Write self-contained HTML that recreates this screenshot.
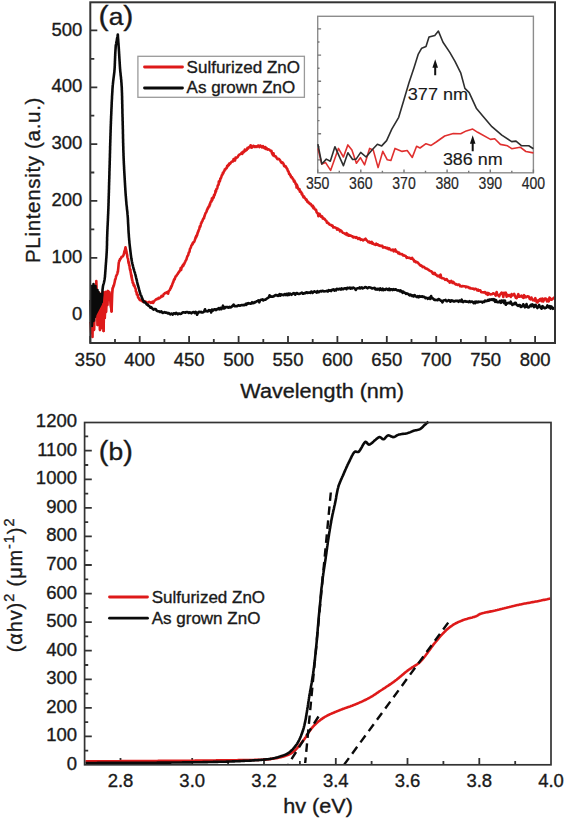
<!DOCTYPE html>
<html><head><meta charset="utf-8"><style>
html,body{margin:0;padding:0;background:#fff;width:564px;height:820px;overflow:hidden}
svg{display:block;font-family:"Liberation Sans",sans-serif}
</style></head><body>
<svg width="564" height="820" viewBox="0 0 564 820">
<path d="M90.3,343.0 V336.0 M115.0,343.0 V339.0 M139.7,343.0 V336.0 M164.4,343.0 V339.0 M189.1,343.0 V336.0 M213.8,343.0 V339.0 M238.6,343.0 V336.0 M263.3,343.0 V339.0 M288.0,343.0 V336.0 M312.7,343.0 V339.0 M337.4,343.0 V336.0 M362.1,343.0 V339.0 M386.8,343.0 V336.0 M411.5,343.0 V339.0 M436.2,343.0 V336.0 M460.9,343.0 V339.0 M485.7,343.0 V336.0 M510.4,343.0 V339.0 M535.1,343.0 V336.0 M90.3,314.6 H97.3 M90.3,286.2 H94.3 M90.3,257.8 H97.3 M90.3,229.4 H94.3 M90.3,200.9 H97.3 M90.3,172.5 H94.3 M90.3,144.1 H97.3 M90.3,115.7 H94.3 M90.3,87.3 H97.3 M90.3,58.9 H94.3 M90.3,30.4 H97.3" stroke="#333333" stroke-width="1.8" fill="none"/>
<text transform="translate(90.3,365.5)" font-size="18.5" text-anchor="middle" fill="#1a1a1a" stroke="#1a1a1a" stroke-width="0.35">350</text>
<text transform="translate(139.7,365.5)" font-size="18.5" text-anchor="middle" fill="#1a1a1a" stroke="#1a1a1a" stroke-width="0.35">400</text>
<text transform="translate(189.1,365.5)" font-size="18.5" text-anchor="middle" fill="#1a1a1a" stroke="#1a1a1a" stroke-width="0.35">450</text>
<text transform="translate(238.6,365.5)" font-size="18.5" text-anchor="middle" fill="#1a1a1a" stroke="#1a1a1a" stroke-width="0.35">500</text>
<text transform="translate(288.0,365.5)" font-size="18.5" text-anchor="middle" fill="#1a1a1a" stroke="#1a1a1a" stroke-width="0.35">550</text>
<text transform="translate(337.4,365.5)" font-size="18.5" text-anchor="middle" fill="#1a1a1a" stroke="#1a1a1a" stroke-width="0.35">600</text>
<text transform="translate(386.8,365.5)" font-size="18.5" text-anchor="middle" fill="#1a1a1a" stroke="#1a1a1a" stroke-width="0.35">650</text>
<text transform="translate(436.2,365.5)" font-size="18.5" text-anchor="middle" fill="#1a1a1a" stroke="#1a1a1a" stroke-width="0.35">700</text>
<text transform="translate(485.7,365.5)" font-size="18.5" text-anchor="middle" fill="#1a1a1a" stroke="#1a1a1a" stroke-width="0.35">750</text>
<text transform="translate(535.1,365.5)" font-size="18.5" text-anchor="middle" fill="#1a1a1a" stroke="#1a1a1a" stroke-width="0.35">800</text>
<text transform="translate(82.3,319.7)" font-size="18.5" text-anchor="end" fill="#1a1a1a" stroke="#1a1a1a" stroke-width="0.35">0</text>
<text transform="translate(82.3,262.9)" font-size="18.5" text-anchor="end" fill="#1a1a1a" stroke="#1a1a1a" stroke-width="0.35">100</text>
<text transform="translate(82.3,206.0)" font-size="18.5" text-anchor="end" fill="#1a1a1a" stroke="#1a1a1a" stroke-width="0.35">200</text>
<text transform="translate(82.3,149.2)" font-size="18.5" text-anchor="end" fill="#1a1a1a" stroke="#1a1a1a" stroke-width="0.35">300</text>
<text transform="translate(82.3,92.4)" font-size="18.5" text-anchor="end" fill="#1a1a1a" stroke="#1a1a1a" stroke-width="0.35">400</text>
<text transform="translate(82.3,35.5)" font-size="18.5" text-anchor="end" fill="#1a1a1a" stroke="#1a1a1a" stroke-width="0.35">500</text>
<text transform="translate(322.2,398.0) scale(1.030,1)" font-size="21" text-anchor="middle" fill="#1a1a1a" stroke="#1a1a1a" stroke-width="0.35">Wavelength (nm)</text>
<text transform="translate(39.6,180.0) rotate(-90)" font-size="20.5" text-anchor="middle" fill="#1a1a1a" stroke="#1a1a1a" stroke-width="0.35" letter-spacing="0.68">PLintensity (a.u.)</text>
<text transform="translate(98.6,25.0) scale(1.100,1)" font-size="27.5" text-anchor="start" fill="#1a1a1a" stroke="#1a1a1a" stroke-width="0.35">(<tspan font-size="24">a</tspan>)</text>
<rect x="137.9" y="56.3" width="166.5" height="41" fill="#fff" stroke="#9a9a9a" stroke-width="1.3"/>
<path d="M144.5,67 H182.5" stroke="#de1a1a" stroke-width="2.8" stroke-linecap="round"/>
<path d="M144.5,88 H182.5" stroke="#0a0a0a" stroke-width="2.8" stroke-linecap="round"/>
<text transform="translate(186.6,73.0)" font-size="17" text-anchor="start" fill="#1a1a1a" stroke="#1a1a1a" stroke-width="0.35">Sulfurized ZnO</text>
<text transform="translate(186.6,93.0)" font-size="17" text-anchor="start" fill="#1a1a1a" stroke="#1a1a1a" stroke-width="0.35">As grown ZnO</text>
<path d="M90.5,322.0 L91.2,333.0 L91.8,305.0 L92.5,337.0 L93.2,300.0 L94.0,330.0 L94.8,290.0 L95.5,310.0 L96.3,281.0 L97.0,300.0 L97.6,325.0 L98.2,296.0 L98.8,322.0 L99.4,293.0 L100.0,330.0 L100.6,300.0 L101.2,328.0 L101.8,296.0 L102.4,318.0 L103.0,292.0 L103.6,331.0 L104.2,300.0 L104.8,318.0 L105.4,292.0 L106.0,312.0 L106.6,294.0 L107.3,305.0 L107.8,291.0 L108.5,300.0 L109.2,292.0 L110.0,296.0 L110.8,305.0 L111.6,311.5 L112.2,294.0 L112.7,288.5 L114.0,285.0 L114.9,281.0 L114.9,280.6 L115.1,279.6 L115.3,279.8 L115.5,278.9 L115.8,277.8 L116.0,276.5 L116.3,275.8 L116.5,275.6 L116.9,274.4 L117.2,274.2 L117.4,273.5 L117.7,271.5 L117.9,271.7 L118.0,271.0 L118.1,269.7 L118.2,268.8 L118.3,267.9 L118.4,266.8 L118.5,265.8 L118.6,264.5 L118.7,263.4 L118.8,262.6 L119.0,261.8 L119.1,261.2 L119.3,260.6 L119.7,260.6 L120.1,258.9 L120.5,258.8 L121.0,258.2 L121.5,257.0 L122.1,256.7 L122.7,256.3 L123.2,255.7 L123.5,255.1 L123.8,254.1 L124.0,253.6 L124.2,252.6 L124.4,251.2 L124.7,251.0 L124.9,250.5 L125.1,249.3 L125.3,248.1 L125.5,247.3 L125.7,248.0 L125.8,248.8 L126.0,250.2 L126.2,250.0 L126.3,251.5 L126.5,251.7 L126.7,253.5 L126.8,253.4 L127.0,254.7 L127.2,254.9 L127.3,256.6 L127.5,257.5 L127.7,258.3 L127.8,258.3 L128.0,258.8 L128.2,260.4 L128.3,261.3 L128.5,262.6 L128.7,263.3 L128.8,262.6 L129.0,263.6 L129.2,265.6 L129.4,265.2 L129.5,266.1 L129.7,267.7 L129.9,269.0 L130.1,270.0 L130.2,270.1 L130.4,269.4 L130.6,272.1 L130.7,272.2 L130.9,273.7 L131.1,275.1 L131.2,274.4 L131.4,276.9 L131.6,275.2 L131.7,278.1 L131.9,277.9 L132.1,280.2 L132.3,279.8 L132.5,281.1 L132.6,282.4 L132.8,282.8 L133.0,282.5 L133.3,283.1 L133.6,285.4 L134.0,284.6 L134.3,286.2 L134.6,286.0 L135.0,287.8 L135.2,287.9 L135.5,288.6 L135.7,288.9 L135.9,291.3 L136.1,291.6 L136.3,292.0 L136.6,292.3 L136.8,294.5 L137.1,294.5 L137.4,295.0 L137.7,294.6 L138.1,297.7 L138.5,297.5 L139.1,298.8 L139.7,299.8 L140.3,300.3 L141.0,300.1 L141.7,300.9 L142.4,300.2 L143.2,301.8 L143.9,301.3 L144.7,301.7 L145.6,301.5 L146.5,302.8 L147.4,302.6 L148.3,302.5 L149.2,301.9 L150.1,302.3 L150.9,302.9 L151.7,302.6 L152.4,301.7 L153.2,303.0 L154.0,301.5 L154.7,300.5 L155.5,300.0 L156.3,299.2 L157.0,298.9 L157.7,299.1 L158.5,297.9 L159.3,298.4 L160.0,297.7 L160.8,297.1 L161.5,295.9 L162.3,296.5 L163.0,296.0 L163.7,294.1 L164.3,293.8 L165.1,293.1 L165.9,293.0 L166.7,292.2 L167.4,292.1 L168.1,293.7 L168.7,291.3 L169.2,290.6 L169.6,290.2 L170.0,289.7 L170.4,288.4 L170.8,288.1 L171.2,286.4 L171.5,286.7 L171.9,285.6 L172.2,284.8 L172.5,283.7 L172.8,283.2 L173.1,282.1 L173.4,281.9 L173.7,280.4 L174.0,280.0 L174.3,279.1 L174.7,279.3 L175.0,278.1 L175.4,277.0 L175.8,276.2 L176.2,276.3 L176.7,275.2 L177.1,274.6 L177.6,274.1 L178.0,273.3 L178.5,272.4 L178.9,272.4 L179.4,271.3 L179.8,270.7 L180.2,270.5 L180.7,268.1 L181.1,270.1 L181.6,267.7 L182.0,266.9 L182.5,265.7 L182.9,266.2 L183.4,265.6 L183.8,263.9 L184.2,264.0 L184.6,263.0 L185.0,262.0 L185.3,261.6 L185.7,260.6 L186.0,260.1 L186.4,259.7 L186.7,258.3 L187.0,257.3 L187.4,256.1 L187.7,256.1 L188.0,255.4 L188.3,254.8 L188.6,253.2 L188.9,252.3 L189.2,252.1 L189.5,251.7 L189.8,249.8 L190.1,248.6 L190.4,248.2 L190.7,247.8 L191.0,247.1 L191.3,245.7 L191.7,245.1 L192.1,244.8 L192.5,243.4 L192.9,243.7 L193.3,242.3 L193.7,242.0 L194.1,241.9 L194.5,241.0 L194.9,239.8 L195.3,238.8 L195.6,237.3 L195.9,237.7 L196.2,235.9 L196.5,236.5 L196.9,235.2 L197.2,235.0 L197.5,233.0 L197.8,233.0 L198.1,231.4 L198.4,231.6 L198.7,230.1 L199.0,229.5 L199.3,229.1 L199.5,227.8 L199.8,226.4 L200.1,226.9 L200.4,226.3 L200.7,225.0 L201.0,223.5 L201.4,223.3 L201.7,221.9 L202.0,221.7 L202.3,221.3 L202.7,220.0 L203.1,219.1 L203.4,218.5 L203.7,218.2 L204.0,218.4 L204.3,216.5 L204.6,216.0 L205.0,214.7 L205.3,213.8 L205.7,212.9 L206.0,212.6 L206.4,211.8 L206.8,210.9 L207.1,209.5 L207.5,209.4 L207.9,207.9 L208.2,208.0 L208.6,206.5 L208.9,206.7 L209.3,206.6 L209.6,204.3 L210.0,204.8 L210.4,202.6 L210.8,201.7 L211.1,201.2 L211.5,201.5 L211.9,198.3 L212.3,199.9 L212.6,198.2 L213.0,197.4 L213.3,198.0 L213.7,197.5 L214.0,195.1 L214.3,195.4 L214.6,195.4 L214.9,193.6 L215.2,193.3 L215.5,190.7 L215.7,191.9 L216.0,191.5 L216.3,189.4 L216.6,189.0 L216.8,188.5 L217.1,188.6 L217.4,187.5 L217.7,185.7 L218.0,185.1 L218.3,184.8 L218.6,184.7 L218.8,181.5 L219.1,182.8 L219.4,181.0 L219.7,181.3 L220.0,180.8 L220.3,178.5 L220.6,178.7 L220.9,178.1 L221.2,177.5 L221.5,176.4 L221.8,175.3 L222.1,175.2 L222.5,174.4 L222.8,172.9 L223.2,173.4 L223.5,172.5 L223.9,171.3 L224.4,171.0 L224.8,169.4 L225.3,169.7 L225.7,168.7 L226.2,168.4 L226.7,168.0 L227.2,165.9 L227.6,166.4 L228.2,164.9 L228.7,165.4 L229.2,163.5 L229.8,164.0 L230.4,163.3 L231.0,162.3 L231.7,161.6 L232.3,161.6 L233.0,161.4 L233.6,159.1 L234.3,159.7 L235.0,160.5 L235.6,157.5 L236.3,158.2 L236.9,157.3 L237.6,157.3 L238.2,156.0 L238.9,155.0 L239.6,154.4 L240.2,154.2 L240.9,153.8 L241.5,152.8 L242.2,153.9 L242.8,151.8 L243.4,152.5 L244.1,151.6 L244.8,149.6 L245.5,150.9 L246.1,149.9 L246.8,149.9 L247.5,147.9 L248.2,148.4 L249.0,147.1 L249.8,147.2 L250.6,145.3 L251.4,147.6 L252.3,147.5 L253.2,145.8 L254.1,146.2 L255.0,147.1 L255.9,146.3 L256.8,146.9 L257.6,145.9 L258.5,145.5 L259.4,147.1 L260.3,145.5 L261.2,146.2 L262.1,147.4 L263.0,146.1 L263.8,147.6 L264.6,148.4 L265.4,147.2 L266.1,149.0 L266.9,148.3 L267.6,149.6 L268.3,149.4 L269.0,149.5 L269.7,150.1 L270.3,150.7 L270.9,151.0 L271.4,150.8 L272.0,153.3 L272.5,154.2 L273.0,155.3 L273.5,153.3 L274.0,155.4 L274.6,156.3 L275.3,156.2 L275.9,156.6 L276.7,158.0 L277.4,159.1 L278.1,158.7 L278.9,159.0 L279.5,159.6 L280.2,160.5 L280.8,161.8 L281.4,162.6 L281.9,163.0 L282.5,162.4 L283.0,163.2 L283.5,163.7 L284.0,165.8 L284.5,166.3 L285.0,165.8 L285.5,166.1 L286.0,167.3 L286.4,167.5 L286.9,168.8 L287.3,168.9 L287.7,170.5 L288.0,171.1 L288.4,171.4 L288.7,172.0 L289.1,173.9 L289.5,173.6 L289.9,174.2 L290.3,175.5 L290.7,175.6 L291.1,177.2 L291.6,177.6 L292.1,177.4 L292.5,178.7 L293.0,178.7 L293.5,179.9 L294.0,181.5 L294.4,180.7 L294.9,182.3 L295.3,182.6 L295.7,184.3 L296.2,183.8 L296.6,187.5 L297.0,185.1 L297.4,186.2 L297.8,188.1 L298.2,188.7 L298.6,189.5 L299.0,188.8 L299.5,189.2 L299.9,191.8 L300.3,191.1 L300.8,191.9 L301.2,192.2 L301.7,194.1 L302.1,193.6 L302.6,195.3 L303.1,196.2 L303.5,197.2 L304.0,196.4 L304.5,197.8 L305.0,198.1 L305.5,198.9 L306.0,199.9 L306.6,199.7 L307.1,201.4 L307.7,202.1 L308.3,201.9 L308.9,203.2 L309.5,203.0 L310.1,204.2 L310.6,203.8 L311.2,204.7 L311.8,205.9 L312.3,206.5 L312.9,205.8 L313.4,208.1 L314.0,207.5 L314.5,208.9 L315.0,209.4 L315.5,209.9 L316.1,209.9 L316.6,212.3 L317.2,212.9 L317.8,213.3 L318.4,216.2 L319.0,214.2 L319.6,213.9 L320.2,215.3 L320.9,216.6 L321.5,216.1 L322.1,216.4 L322.8,218.5 L323.4,217.9 L324.0,219.0 L324.6,218.9 L325.2,219.8 L325.8,220.5 L326.4,220.8 L327.0,222.8 L327.6,222.9 L328.3,222.8 L328.9,223.9 L329.6,224.7 L330.3,224.7 L331.0,225.0 L331.8,225.7 L332.5,225.5 L333.3,227.5 L334.0,227.3 L334.8,227.3 L335.6,227.7 L336.3,227.9 L337.1,229.6 L337.8,228.5 L338.6,229.6 L339.3,229.5 L340.0,231.4 L340.7,230.4 L341.5,231.1 L342.2,232.0 L342.9,232.8 L343.7,233.0 L344.5,233.5 L345.2,233.9 L345.9,234.4 L346.6,233.1 L347.3,235.2 L348.0,234.5 L348.8,235.7 L349.5,235.1 L350.2,235.6 L351.0,235.6 L351.8,236.4 L352.6,236.3 L353.4,237.5 L354.2,237.1 L354.9,237.1 L355.7,237.8 L356.5,237.2 L357.3,237.9 L358.1,239.0 L358.9,238.1 L359.7,238.3 L360.6,239.8 L361.4,239.4 L362.3,239.8 L363.1,240.4 L363.9,239.9 L364.7,239.4 L365.5,238.7 L366.3,239.9 L367.0,240.7 L367.7,241.2 L368.4,242.1 L369.3,241.5 L370.1,242.8 L370.9,242.3 L371.7,241.9 L372.4,243.7 L373.1,243.2 L373.9,244.2 L374.7,244.4 L375.5,244.8 L376.2,243.7 L376.9,244.7 L377.7,244.3 L378.4,245.4 L379.2,245.2 L379.9,246.0 L380.7,245.8 L381.5,245.9 L382.3,245.7 L383.0,247.5 L383.8,247.4 L384.6,247.4 L385.4,247.3 L386.1,248.0 L386.9,248.4 L387.6,247.8 L388.4,249.2 L389.2,248.3 L390.0,249.4 L390.7,249.8 L391.5,250.3 L392.3,249.7 L393.0,249.6 L393.8,251.4 L394.5,250.2 L395.3,249.5 L396.0,251.7 L396.7,251.8 L397.5,251.8 L398.3,253.4 L399.1,252.7 L399.9,254.0 L400.6,254.0 L401.4,254.2 L402.1,254.1 L402.9,255.4 L403.6,255.0 L404.4,255.8 L405.2,255.7 L405.9,256.3 L406.7,257.8 L407.5,257.4 L408.2,257.8 L409.0,257.9 L409.8,257.8 L410.6,258.6 L411.4,258.7 L412.1,257.8 L412.9,259.4 L413.6,259.7 L414.3,261.4 L415.0,261.1 L415.8,262.2 L416.5,261.9 L417.2,262.4 L417.8,262.6 L418.5,263.6 L419.1,263.9 L419.8,264.9 L420.5,265.7 L421.2,265.3 L421.9,266.1 L422.6,267.1 L423.2,266.9 L424.0,266.9 L424.7,267.6 L425.4,268.4 L426.1,268.6 L426.9,268.6 L427.6,269.4 L428.4,269.5 L429.1,270.4 L429.9,270.7 L430.6,271.2 L431.3,271.3 L432.0,271.9 L432.7,273.5 L433.4,273.9 L434.1,272.9 L434.8,273.1 L435.5,274.7 L436.2,274.6 L436.9,275.6 L437.6,276.2 L438.4,276.2 L439.1,275.6 L439.8,277.1 L440.6,274.7 L441.3,277.9 L442.1,278.2 L442.8,278.3 L443.6,278.5 L444.3,278.7 L445.1,279.8 L445.8,279.5 L446.6,279.0 L447.4,280.3 L448.1,281.0 L448.9,281.0 L449.7,282.6 L450.4,282.1 L451.2,280.9 L451.9,281.8 L452.6,283.0 L453.4,282.0 L454.1,283.0 L454.9,283.8 L455.7,284.4 L456.4,284.1 L457.2,284.9 L457.9,284.9 L458.7,284.5 L459.4,284.7 L460.2,286.3 L460.9,286.1 L461.7,286.5 L462.6,286.0 L463.4,286.3 L464.2,286.2 L465.1,286.2 L465.9,287.3 L466.7,286.6 L467.6,287.1 L468.4,287.0 L469.2,288.1 L470.0,287.7 L470.8,288.4 L471.6,288.5 L472.5,288.6 L473.3,288.5 L474.1,289.4 L474.9,288.8 L475.7,288.9 L476.5,289.4 L477.3,290.4 L478.1,289.7 L478.8,290.6 L479.5,290.3 L480.3,290.3 L481.1,292.0 L481.8,292.3 L482.5,292.3 L483.3,292.5 L484.1,292.2 L485.0,292.1 L485.7,293.4 L486.4,294.1 L487.1,292.9 L487.9,294.8 L488.7,293.2 L489.5,293.9 L490.4,294.5 L491.3,294.3 L492.2,294.3 L493.0,293.3 L493.9,293.6 L494.8,294.1 L495.7,295.6 L496.6,292.0 L497.5,294.8 L498.3,295.2 L499.1,296.4 L500.0,294.5 L500.8,293.6 L501.6,292.7 L502.5,293.2 L503.3,296.9 L504.1,292.7 L505.0,293.5 L505.8,292.7 L506.6,296.7 L507.4,294.8 L508.3,296.0 L509.1,295.0 L509.9,295.2 L510.8,297.0 L511.6,294.1 L512.4,295.4 L513.3,295.1 L514.1,293.9 L514.9,295.7 L515.8,297.8 L516.6,298.2 L517.4,296.6 L518.3,294.1 L519.1,296.7 L519.9,296.6 L520.8,296.3 L521.6,295.6 L522.4,297.1 L523.2,297.8 L524.1,295.2 L524.9,297.3 L525.7,296.5 L526.5,297.1 L527.3,296.3 L528.1,296.4 L528.9,296.7 L529.7,298.9 L530.5,299.3 L531.4,297.5 L532.2,299.2 L533.0,300.3 L533.7,299.8 L534.5,300.5 L535.3,298.2 L536.0,300.1 L536.8,302.3 L537.5,302.5 L538.2,300.3 L539.1,300.8 L539.9,299.2 L540.7,298.8 L541.5,301.2 L542.3,298.5 L543.1,301.5 L543.8,300.3 L544.6,298.8 L545.4,298.5 L546.2,298.9 L547.0,301.3 L547.9,299.5 L548.7,301.4 L549.5,297.6 L550.4,298.5 L551.2,299.7 L552.1,299.4 L552.9,298.6 L553.8,298.3 L554.6,296.9" stroke="#de1a1a" stroke-width="2.6" fill="none" stroke-linejoin="round"/>
<path d="M90.5,300.0 L91.0,322.0 L91.5,286.0 L92.0,326.0 L92.5,288.0 L93.0,314.0 L93.5,284.0 L94.0,321.0 L94.5,290.0 L95.0,317.0 L95.5,286.0 L96.0,314.0 L96.5,292.0 L97.0,316.0 L97.5,290.0 L98.0,311.0 L98.5,292.0 L99.0,310.0 L99.5,294.0 L100.0,308.0 L100.5,296.0 L101.0,306.0 L101.5,294.0 L102.0,302.0 L102.5,290.0 L103.0,286.0 L103.0,286.0 L103.2,285.2 L103.4,284.4 L103.7,283.6 L103.9,282.8 L104.1,281.9 L104.3,281.0 L104.5,280.0 L104.6,279.3 L104.7,278.6 L104.8,277.9 L104.9,277.1 L105.0,276.3 L105.0,275.5 L105.1,274.7 L105.2,273.8 L105.2,272.9 L105.3,272.0 L105.4,271.2 L105.4,270.3 L105.5,269.4 L105.6,268.5 L105.6,267.6 L105.7,266.7 L105.7,265.8 L105.8,265.0 L105.9,264.2 L105.9,263.3 L106.0,262.5 L106.1,261.7 L106.1,260.8 L106.2,260.0 L106.2,259.2 L106.3,258.3 L106.4,257.5 L106.4,256.7 L106.5,255.8 L106.5,255.0 L106.6,254.1 L106.6,253.3 L106.7,252.5 L106.7,251.7 L106.8,250.8 L106.8,250.0 L106.8,249.2 L106.9,248.4 L106.9,247.6 L106.9,246.8 L106.9,246.1 L107.0,245.3 L107.0,244.5 L107.0,243.8 L107.0,243.0 L107.0,242.2 L107.0,241.4 L107.1,240.6 L107.1,239.8 L107.1,239.0 L107.1,238.1 L107.1,237.3 L107.2,236.4 L107.2,235.5 L107.2,234.8 L107.3,234.1 L107.3,233.3 L107.3,232.6 L107.3,231.9 L107.4,231.1 L107.4,230.3 L107.4,229.6 L107.5,228.8 L107.5,228.0 L107.5,227.2 L107.6,226.4 L107.6,225.6 L107.7,224.8 L107.7,224.0 L107.7,223.1 L107.8,222.3 L107.8,221.5 L107.9,220.6 L107.9,219.8 L107.9,218.9 L108.0,218.0 L108.0,217.2 L108.0,216.3 L108.1,215.4 L108.1,214.5 L108.2,213.6 L108.2,212.7 L108.2,211.8 L108.3,210.9 L108.3,210.0 L108.3,209.3 L108.4,208.6 L108.4,207.8 L108.4,207.1 L108.4,206.4 L108.5,205.6 L108.5,204.9 L108.5,204.2 L108.5,203.4 L108.6,202.6 L108.6,201.9 L108.6,201.1 L108.6,200.4 L108.6,199.6 L108.7,198.8 L108.7,198.0 L108.7,197.2 L108.7,196.4 L108.8,195.7 L108.8,194.9 L108.8,194.1 L108.8,193.3 L108.9,192.5 L108.9,191.6 L108.9,190.8 L108.9,190.0 L109.0,189.2 L109.0,188.4 L109.0,187.6 L109.0,186.8 L109.0,185.9 L109.1,185.1 L109.1,184.3 L109.1,183.4 L109.1,182.6 L109.2,181.8 L109.2,180.9 L109.2,180.1 L109.2,179.3 L109.3,178.4 L109.3,177.6 L109.3,176.7 L109.3,175.9 L109.4,175.1 L109.4,174.2 L109.4,173.4 L109.4,172.5 L109.4,171.7 L109.5,170.8 L109.5,170.0 L109.5,169.2 L109.5,168.5 L109.6,167.7 L109.6,166.9 L109.6,166.1 L109.6,165.3 L109.7,164.6 L109.7,163.8 L109.7,163.0 L109.7,162.2 L109.7,161.3 L109.8,160.5 L109.8,159.7 L109.8,158.9 L109.8,158.1 L109.9,157.3 L109.9,156.4 L109.9,155.6 L109.9,154.8 L109.9,154.0 L110.0,153.1 L110.0,152.3 L110.0,151.5 L110.0,150.6 L110.1,149.8 L110.1,149.0 L110.1,148.1 L110.1,147.3 L110.1,146.5 L110.2,145.6 L110.2,144.8 L110.2,144.0 L110.2,143.1 L110.3,142.3 L110.3,141.5 L110.3,140.6 L110.3,139.8 L110.4,139.0 L110.4,138.1 L110.4,137.3 L110.4,136.5 L110.5,135.7 L110.5,134.8 L110.5,134.0 L110.5,133.2 L110.6,132.4 L110.6,131.6 L110.6,130.8 L110.6,130.0 L110.7,129.2 L110.7,128.4 L110.7,127.6 L110.7,126.8 L110.8,126.1 L110.8,125.3 L110.8,124.5 L110.9,123.7 L110.9,123.0 L110.9,122.2 L110.9,121.5 L111.0,120.7 L111.0,120.0 L111.0,119.1 L111.1,118.2 L111.1,117.3 L111.1,116.4 L111.2,115.6 L111.2,114.7 L111.3,113.8 L111.3,112.9 L111.3,112.0 L111.4,111.1 L111.4,110.2 L111.4,109.4 L111.5,108.5 L111.5,107.6 L111.6,106.7 L111.6,105.9 L111.6,105.0 L111.7,104.2 L111.7,103.3 L111.7,102.5 L111.8,101.6 L111.8,100.8 L111.9,99.9 L111.9,99.1 L112.0,98.3 L112.0,97.5 L112.0,96.7 L112.1,95.9 L112.1,95.1 L112.2,94.3 L112.2,93.5 L112.3,92.8 L112.3,92.0 L112.4,91.3 L112.4,90.5 L112.4,89.8 L112.5,89.1 L112.5,88.4 L112.6,87.7 L112.6,87.0 L112.7,86.3 L112.7,85.6 L112.8,85.0 L112.9,84.0 L113.0,83.1 L113.1,82.1 L113.2,81.2 L113.3,80.4 L113.4,79.5 L113.5,78.7 L113.6,77.9 L113.7,77.1 L113.8,76.3 L113.9,75.5 L114.0,74.8 L114.1,74.0 L114.2,73.2 L114.3,72.4 L114.4,71.6 L114.4,70.8 L114.5,70.0 L114.6,69.2 L114.6,68.3 L114.7,67.5 L114.7,66.6 L114.8,65.7 L114.8,64.9 L114.8,64.0 L114.9,63.1 L114.9,62.3 L114.9,61.4 L115.0,60.5 L115.0,59.7 L115.0,58.9 L115.1,58.1 L115.1,57.3 L115.1,56.5 L115.2,55.7 L115.2,55.0 L115.2,54.1 L115.3,53.3 L115.3,52.4 L115.4,51.6 L115.4,50.8 L115.5,50.1 L115.5,49.3 L115.6,48.5 L115.6,47.8 L115.7,47.0 L115.7,46.2 L115.8,45.4 L116.0,44.5 L116.2,43.7 L116.3,42.9 L116.4,42.0 L116.6,41.2 L116.8,40.4 L116.9,39.5 L117.0,38.7 L117.2,37.8 L117.4,37.0 L117.5,36.2 L117.7,35.3 L117.8,34.5 L117.9,35.3 L117.9,36.2 L118.0,37.0 L118.0,37.8 L118.1,38.7 L118.2,39.5 L118.2,40.3 L118.3,41.2 L118.3,42.0 L118.4,42.8 L118.5,43.7 L118.5,44.5 L118.6,45.3 L118.6,46.2 L118.7,47.0 L118.8,47.8 L118.8,48.6 L118.9,49.5 L118.9,50.3 L119.0,51.1 L119.0,52.0 L119.1,52.8 L119.1,53.6 L119.2,54.5 L119.2,55.3 L119.3,56.1 L119.3,57.0 L119.4,57.8 L119.4,58.6 L119.5,59.5 L119.5,60.3 L119.6,61.1 L119.6,61.9 L119.7,62.7 L119.7,63.5 L119.8,64.3 L119.8,65.1 L119.9,65.9 L119.9,66.7 L120.0,67.5 L120.0,68.2 L120.1,69.0 L120.2,69.9 L120.2,70.7 L120.3,71.5 L120.4,72.3 L120.5,73.0 L120.6,73.8 L120.6,74.5 L120.7,75.3 L120.8,76.0 L120.9,76.8 L121.0,77.5 L121.0,78.3 L121.1,79.1 L121.2,79.8 L121.3,80.6 L121.3,81.5 L121.4,82.3 L121.5,83.2 L121.5,84.1 L121.6,85.0 L121.6,85.7 L121.7,86.4 L121.7,87.0 L121.8,87.7 L121.8,88.5 L121.8,89.2 L121.8,89.9 L121.9,90.7 L121.9,91.4 L121.9,92.2 L122.0,93.0 L122.0,93.8 L122.0,94.6 L122.0,95.4 L122.1,96.2 L122.1,97.0 L122.1,97.8 L122.1,98.6 L122.1,99.5 L122.2,100.3 L122.2,101.2 L122.2,102.0 L122.2,102.9 L122.2,103.7 L122.3,104.6 L122.3,105.4 L122.3,106.3 L122.3,107.2 L122.3,108.1 L122.4,108.9 L122.4,109.8 L122.4,110.7 L122.4,111.5 L122.4,112.4 L122.4,113.3 L122.5,114.1 L122.5,115.0 L122.5,115.9 L122.5,116.7 L122.6,117.6 L122.6,118.4 L122.6,119.3 L122.6,120.1 L122.6,120.9 L122.7,121.6 L122.7,122.4 L122.7,123.2 L122.7,124.0 L122.7,124.8 L122.8,125.6 L122.8,126.4 L122.8,127.2 L122.8,127.9 L122.8,128.7 L122.9,129.5 L122.9,130.3 L122.9,131.2 L122.9,132.0 L122.9,132.8 L122.9,133.6 L123.0,134.4 L123.0,135.2 L123.0,136.0 L123.0,136.8 L123.0,137.6 L123.0,138.4 L123.1,139.2 L123.1,140.1 L123.1,140.9 L123.1,141.7 L123.1,142.5 L123.2,143.3 L123.2,144.1 L123.2,145.0 L123.2,145.8 L123.3,146.6 L123.3,147.4 L123.3,148.2 L123.3,149.0 L123.3,149.9 L123.4,150.7 L123.4,151.5 L123.4,152.3 L123.5,153.1 L123.5,153.9 L123.5,154.7 L123.5,155.6 L123.6,156.4 L123.6,157.2 L123.6,158.0 L123.7,158.8 L123.7,159.6 L123.7,160.4 L123.8,161.2 L123.8,162.1 L123.8,162.9 L123.9,163.7 L123.9,164.6 L124.0,165.4 L124.0,166.3 L124.1,167.1 L124.1,168.0 L124.1,168.9 L124.2,169.7 L124.2,170.6 L124.3,171.5 L124.3,172.3 L124.4,173.2 L124.4,174.1 L124.5,175.0 L124.5,175.8 L124.6,176.7 L124.6,177.6 L124.7,178.4 L124.7,179.3 L124.8,180.2 L124.8,181.0 L124.9,181.9 L124.9,182.7 L125.0,183.6 L125.0,184.4 L125.1,185.3 L125.1,186.1 L125.2,186.9 L125.2,187.7 L125.3,188.5 L125.3,189.3 L125.4,190.1 L125.4,190.9 L125.5,191.7 L125.5,192.4 L125.6,193.2 L125.6,193.9 L125.7,194.6 L125.7,195.4 L125.8,196.1 L125.9,196.8 L125.9,197.4 L126.0,198.1 L126.0,198.7 L126.1,199.4 L126.1,200.0 L126.2,201.0 L126.3,202.0 L126.4,202.9 L126.4,203.8 L126.5,204.6 L126.6,205.4 L126.7,206.2 L126.8,207.0 L126.9,207.7 L126.9,208.5 L127.0,209.2 L127.1,210.0 L127.2,210.8 L127.3,211.5 L127.4,212.4 L127.4,213.2 L127.5,214.1 L127.6,215.0 L127.7,215.7 L127.7,216.4 L127.8,217.2 L127.8,217.9 L127.9,218.7 L127.9,219.5 L128.0,220.2 L128.0,221.0 L128.0,221.8 L128.1,222.7 L128.1,223.5 L128.2,224.3 L128.2,225.1 L128.3,226.0 L128.3,226.8 L128.4,227.6 L128.4,228.5 L128.4,229.3 L128.5,230.2 L128.5,231.0 L128.6,231.8 L128.6,232.7 L128.7,233.5 L128.8,234.3 L128.8,235.2 L128.9,236.0 L128.9,236.8 L129.0,237.6 L129.1,238.4 L129.1,239.2 L129.2,240.0 L129.3,240.8 L129.4,241.7 L129.4,242.5 L129.5,243.4 L129.6,244.2 L129.7,245.1 L129.8,245.9 L129.9,246.8 L130.0,247.6 L130.1,248.5 L130.2,249.3 L130.3,250.2 L130.4,251.0 L130.5,251.9 L130.6,252.7 L130.7,253.5 L130.8,254.3 L130.9,255.1 L131.0,255.9 L131.1,256.7 L131.2,257.5 L131.3,258.3 L131.5,259.1 L131.6,259.8 L131.7,260.6 L131.9,261.3 L132.0,262.0 L132.2,262.9 L132.4,263.8 L132.6,264.6 L132.8,265.4 L133.0,266.3 L133.2,267.1 L133.4,267.9 L133.6,268.7 L133.9,269.4 L134.1,270.2 L134.3,271.0 L134.5,271.7 L134.8,272.5 L135.0,273.2 L135.2,274.0 L135.4,274.7 L135.6,275.5 L135.8,276.3 L136.0,277.2 L136.2,278.0 L136.4,278.8 L136.6,279.6 L136.8,280.4 L137.0,281.2 L137.1,282.0 L137.3,282.8 L137.5,283.6 L137.7,284.4 L137.9,285.2 L138.2,286.0 L138.4,286.8 L138.6,287.6 L138.8,288.4 L139.1,289.2 L139.3,290.1 L139.5,290.9 L139.7,291.8 L140.0,292.6 L140.2,293.2 L140.5,294.5 L140.7,295.2 L141.0,295.2 L141.3,296.0 L141.6,296.8 L142.0,298.1 L142.3,298.3 L142.7,299.8 L143.2,300.5 L143.7,301.8 L144.2,302.3 L144.8,301.8 L145.4,302.7 L145.9,303.0 L146.6,304.3 L147.2,304.8 L147.8,304.5 L148.5,306.0 L149.1,305.9 L149.8,306.6 L150.5,307.7 L151.2,307.2 L152.0,308.1 L152.7,308.9 L153.5,309.6 L154.2,309.1 L155.0,309.0 L155.8,309.2 L156.6,310.7 L157.5,311.2 L158.3,311.2 L159.0,311.3 L159.8,312.0 L160.6,311.7 L161.3,311.3 L162.1,312.4 L162.9,313.0 L163.7,312.5 L164.6,312.1 L165.4,312.6 L166.2,312.6 L167.0,312.8 L167.9,313.4 L168.7,313.0 L169.6,313.9 L170.4,314.4 L171.2,313.5 L172.0,313.7 L172.8,314.6 L173.6,313.4 L174.4,313.4 L175.3,313.9 L176.1,312.9 L176.9,313.4 L177.8,314.3 L178.6,313.5 L179.5,313.6 L180.4,313.9 L181.2,313.8 L182.1,312.9 L182.9,312.4 L183.8,312.3 L184.6,312.5 L185.4,312.7 L186.2,312.1 L187.1,312.2 L187.9,312.1 L188.8,313.0 L189.6,312.4 L190.5,312.5 L191.4,313.3 L192.2,312.6 L193.1,312.0 L193.9,312.3 L194.7,313.1 L195.5,311.8 L196.3,312.5 L197.1,314.7 L197.9,313.0 L198.6,311.9 L199.3,311.7 L200.0,312.3 L201.0,311.8 L201.8,312.5 L202.7,312.4 L203.4,312.3 L204.2,311.2 L205.0,309.3 L205.8,311.3 L206.7,311.3 L207.7,311.5 L208.4,310.6 L209.0,310.1 L209.8,310.6 L210.5,310.4 L211.2,312.5 L212.0,309.5 L212.8,310.7 L213.6,310.2 L214.5,309.2 L215.3,309.2 L216.1,310.1 L217.0,309.0 L217.9,309.3 L218.7,308.2 L219.6,309.3 L220.4,307.9 L221.3,309.1 L222.2,307.9 L223.0,305.7 L223.9,308.5 L224.7,308.2 L225.5,307.0 L226.3,307.0 L227.1,307.4 L227.9,307.0 L228.7,307.6 L229.5,306.8 L230.3,307.4 L231.1,307.3 L231.9,306.6 L232.7,305.7 L233.6,304.6 L234.4,306.2 L235.2,306.2 L236.0,306.0 L236.8,306.3 L237.6,305.9 L238.4,305.3 L239.2,305.5 L240.0,305.8 L240.8,305.2 L241.6,305.1 L242.4,305.3 L243.2,304.9 L244.0,305.3 L244.8,305.1 L245.6,303.9 L246.4,304.8 L247.2,303.4 L248.0,303.7 L248.8,303.1 L249.7,303.6 L250.5,303.8 L251.3,303.3 L252.1,302.2 L252.9,303.3 L253.7,303.1 L254.5,302.1 L255.3,302.5 L256.1,301.6 L256.9,301.2 L257.7,301.0 L258.5,300.3 L259.3,302.4 L260.1,300.3 L260.9,299.8 L261.7,299.7 L262.5,299.3 L263.3,300.4 L264.0,299.9 L264.8,299.8 L265.6,299.7 L266.4,298.8 L267.2,298.4 L268.0,297.8 L268.8,297.4 L269.6,295.3 L270.4,296.7 L271.2,296.4 L272.0,296.8 L272.8,296.7 L273.6,296.0 L274.3,296.2 L275.1,295.3 L275.8,295.0 L276.6,295.3 L277.3,295.8 L278.0,295.2 L278.7,295.9 L279.6,294.2 L280.4,295.6 L281.2,294.3 L282.0,294.9 L282.8,294.8 L283.6,295.2 L284.3,294.2 L285.1,294.0 L285.9,295.0 L286.7,293.8 L287.5,295.1 L288.3,293.5 L289.1,294.9 L290.0,293.5 L290.7,294.0 L291.5,294.8 L292.2,294.3 L293.0,293.5 L293.8,293.1 L294.5,293.6 L295.3,294.7 L296.1,293.2 L297.0,293.0 L297.8,293.8 L298.6,293.9 L299.4,293.9 L300.3,293.5 L301.1,293.0 L301.9,292.5 L302.8,293.7 L303.6,293.7 L304.4,293.1 L305.3,293.3 L306.1,292.5 L306.9,292.2 L307.7,293.0 L308.5,292.5 L309.3,292.6 L310.1,292.9 L310.9,291.8 L311.7,291.6 L312.6,293.0 L313.4,292.1 L314.2,291.3 L315.0,291.6 L315.8,291.9 L316.6,292.6 L317.4,291.2 L318.2,292.1 L319.0,292.2 L319.8,291.2 L320.6,291.1 L321.5,291.4 L322.3,290.7 L323.1,290.9 L323.9,291.4 L324.7,291.2 L325.5,291.2 L326.3,291.1 L327.1,290.8 L327.9,291.5 L328.7,290.2 L329.5,290.8 L330.3,290.3 L331.1,291.1 L331.9,289.9 L332.7,290.0 L333.5,289.3 L334.4,290.6 L335.2,289.6 L336.0,290.3 L336.8,288.9 L337.6,289.0 L338.4,289.5 L339.2,288.9 L340.0,288.9 L340.8,289.6 L341.6,288.4 L342.4,289.2 L343.2,289.2 L344.0,288.5 L344.8,288.4 L345.7,288.3 L346.5,289.2 L347.3,287.7 L348.2,288.0 L349.0,288.2 L349.9,287.6 L350.7,288.7 L351.6,287.8 L352.4,288.4 L353.3,287.5 L354.1,288.0 L354.9,288.5 L355.7,290.0 L356.5,288.7 L357.3,288.3 L358.0,288.3 L358.8,288.3 L359.5,287.5 L360.2,288.5 L360.9,287.8 L361.8,287.4 L362.7,288.5 L363.5,288.0 L364.4,287.8 L365.2,287.1 L365.9,287.2 L366.7,287.7 L367.5,288.3 L368.2,287.6 L369.0,287.3 L369.8,287.5 L370.6,287.5 L371.4,288.1 L372.2,288.5 L373.0,288.1 L373.8,288.2 L374.6,287.9 L375.4,289.5 L376.2,288.9 L377.0,289.6 L377.8,288.7 L378.7,289.0 L379.5,290.0 L380.3,288.4 L381.1,289.8 L381.9,290.1 L382.7,288.7 L383.5,290.1 L384.3,289.3 L385.2,289.8 L386.0,288.8 L386.8,288.8 L387.6,289.7 L388.4,290.0 L389.2,288.6 L390.0,290.2 L390.9,289.2 L391.7,289.2 L392.5,290.0 L393.3,289.1 L394.1,289.9 L394.9,289.5 L395.7,289.2 L396.5,290.0 L397.3,290.5 L398.1,290.4 L398.9,290.2 L399.7,291.2 L400.5,290.3 L401.2,291.7 L402.0,291.4 L402.7,292.8 L403.5,291.7 L404.3,292.7 L405.1,292.7 L405.9,293.9 L406.8,293.4 L407.7,293.9 L408.4,294.0 L409.1,295.0 L409.8,295.5 L410.5,294.5 L411.3,295.0 L412.1,296.0 L412.9,295.3 L413.7,296.4 L414.5,295.1 L415.3,295.8 L416.2,296.7 L417.0,297.1 L417.9,296.1 L418.8,297.3 L419.6,296.0 L420.5,296.7 L421.3,296.7 L422.2,296.3 L423.0,297.0 L423.9,296.8 L424.7,297.1 L425.5,298.2 L426.3,297.7 L427.1,297.9 L427.9,298.8 L428.7,298.0 L429.5,297.7 L430.3,299.0 L431.1,296.0 L431.9,298.1 L432.7,298.2 L433.5,298.9 L434.3,299.9 L435.1,299.7 L436.0,300.1 L436.8,299.9 L437.6,300.2 L438.4,299.1 L439.2,299.3 L440.0,300.0 L440.8,300.6 L441.6,300.7 L442.4,302.3 L443.2,300.8 L444.0,300.2 L444.8,300.3 L445.6,299.9 L446.4,301.1 L447.2,301.2 L448.0,300.7 L448.8,300.1 L449.6,300.4 L450.4,301.7 L451.2,300.4 L452.0,300.9 L452.8,300.6 L453.7,301.5 L454.5,301.5 L455.3,300.7 L456.1,300.7 L456.9,301.0 L457.7,300.7 L458.5,301.8 L459.3,300.5 L460.1,300.9 L460.9,301.5 L461.7,299.7 L462.6,301.9 L463.4,302.1 L464.3,301.2 L465.1,301.1 L466.0,301.7 L466.9,301.5 L467.8,301.7 L468.6,302.2 L469.5,301.2 L470.4,302.1 L471.2,301.8 L472.1,301.5 L472.9,302.2 L473.7,303.1 L474.5,301.9 L475.3,303.2 L476.0,301.5 L476.7,302.0 L477.4,302.4 L478.1,301.7 L478.7,302.1 L479.8,301.8 L480.7,301.8 L481.6,301.8 L482.4,302.5 L483.2,301.6 L484.1,302.0 L485.0,300.7 L485.8,301.2 L486.5,301.0 L487.3,300.9 L488.1,299.9 L488.8,300.7 L489.6,299.6 L490.5,299.9 L491.3,299.4 L492.1,299.9 L493.0,299.2 L493.7,300.3 L494.5,299.4 L495.2,301.8 L496.0,300.1 L496.8,302.0 L497.6,302.1 L498.4,302.0 L499.2,302.1 L500.0,300.8 L500.9,302.8 L501.7,300.5 L502.5,302.0 L503.4,300.6 L504.2,303.2 L505.0,300.7 L505.8,304.8 L506.6,303.2 L507.4,303.5 L508.2,302.8 L509.1,303.0 L509.9,303.3 L510.7,301.7 L511.5,303.8 L512.4,305.0 L513.2,303.9 L514.0,304.1 L514.9,302.9 L515.7,302.9 L516.5,304.7 L517.4,305.3 L518.2,305.8 L519.0,305.1 L519.9,305.1 L520.7,307.0 L521.5,306.7 L522.3,306.3 L523.2,304.3 L524.0,305.5 L524.8,307.3 L525.7,306.9 L526.5,304.1 L527.3,306.9 L528.2,307.5 L529.0,307.3 L529.8,306.1 L530.7,305.0 L531.5,306.2 L532.3,304.4 L533.2,305.0 L534.0,307.1 L534.9,305.1 L535.7,304.9 L536.6,307.0 L537.4,308.0 L538.3,306.9 L539.1,305.0 L540.0,307.1 L540.8,307.8 L541.6,308.7 L542.4,306.2 L543.2,306.6 L544.0,307.9 L544.8,308.3 L545.7,307.7 L546.5,307.6 L547.4,305.4 L548.2,306.7 L549.0,307.4 L549.8,306.1 L550.6,308.6 L551.4,306.5 L552.2,307.7 L553.0,308.8 L553.8,308.0 L554.6,308.5" stroke="#0a0a0a" stroke-width="2.6" fill="none" stroke-linejoin="round"/>
<clipPath id="rc"><path d="M92.5,345 L92.5,330 L96,316 L102.8,303 L104.8,290 L113,279 L113,345 Z"/></clipPath>
<path clip-path="url(#rc)" d="M94.0,330.0 L94.8,290.0 L95.5,310.0 L96.3,281.0 L97.0,300.0 L97.6,325.0 L98.2,296.0 L98.8,322.0 L99.4,293.0 L100.0,330.0 L100.6,300.0 L101.2,328.0 L101.8,296.0 L102.4,318.0 L103.0,292.0 L103.6,331.0 L104.2,300.0 L104.8,318.0 L105.4,292.0 L106.0,312.0 L106.6,294.0 L107.3,305.0 L107.8,291.0 L108.5,300.0 L109.2,292.0 L110.0,296.0 L110.8,305.0 L111.6,311.5 L112.2,294.0 L112.7,288.5 L114.0,285.0" stroke="#de1a1a" stroke-width="2.4" fill="none" stroke-linejoin="round"/>
<rect x="317.7" y="16.3" width="215.7" height="156.5" fill="#fff" stroke="#8c8c8c" stroke-width="1.4"/>
<path d="M317.7,172.8 V169.4 M339.3,172.8 V170.8 M360.8,172.8 V169.4 M382.4,172.8 V170.8 M404.0,172.8 V169.4 M425.5,172.8 V170.8 M447.1,172.8 V169.4 M468.7,172.8 V170.8 M490.3,172.8 V169.4 M511.8,172.8 V170.8 M533.4,172.8 V169.4 M317.7,159.9 H321.09999999999997 M317.7,146.8 H319.5 M317.7,133.7 H321.09999999999997 M317.7,120.6 H319.5 M317.7,107.5 H321.09999999999997 M317.7,94.4 H319.5 M317.7,81.3 H321.09999999999997 M317.7,68.2 H319.5 M317.7,55.1 H321.09999999999997 M317.7,42.0 H319.5 M317.7,28.9 H321.09999999999997" stroke="#777777" stroke-width="1.4" fill="none"/>
<polyline points="317.9,148.4 321.8,164.0 325.6,162.6 330.6,170.4 338.4,148.4 343.4,157.0 347.9,144.9 351.9,149.9 356.4,163.3 360.4,157.7 364.6,164.8 369.6,148.4 373.2,149.9 378.1,167.6 382.8,151.3 387.3,159.8 390.9,160.5 395.0,148.4 402.1,151.4 407.2,150.5 412.3,157.4 416.6,146.3 420.0,148.0 426.0,143.7 431.1,145.4 436.2,142.0 444.7,136.0 453.3,133.5 460.7,133.8 466.3,130.9 472.7,129.1 477.7,132.3 490.5,139.4 494.7,138.7 500.4,144.4 507.5,145.8 511.7,148.7 520.2,147.2 525.9,151.5 533.4,152.9" stroke="#e0302f" stroke-width="1.6" fill="none" stroke-linejoin="round"/>
<polyline points="317.9,144.2 321.8,164.0 326.3,159.1 330.3,161.2 334.9,146.7 343.4,165.7 347.9,152.7 352.6,159.5 356.1,159.1 360.7,152.4 366.1,157.0 372.0,150.0 377.4,144.2 381.7,145.9 386.6,140.6 391.8,129.2 398.7,117.3 403.8,100.2 408.9,83.1 414.0,67.8 418.3,54.1 421.7,48.2 426.0,46.5 429.0,37.1 431.9,36.2 434.8,35.4 438.4,31.1 443.0,42.2 449.8,52.4 455.0,61.4 460.7,72.8 464.9,88.4 469.2,92.6 476.3,108.2 483.4,116.7 491.9,126.7 501.8,135.2 511.7,141.6 516.0,141.1 521.7,145.8 528.8,145.8 533.4,148.7" stroke="#2e2e2e" stroke-width="1.6" fill="none" stroke-linejoin="round"/>
<text transform="translate(317.7,188.5) scale(0.900,1)" font-size="15.6" text-anchor="middle" fill="#262626" stroke="#262626" stroke-width="0.2">350</text>
<text transform="translate(360.8,188.5) scale(0.900,1)" font-size="15.6" text-anchor="middle" fill="#262626" stroke="#262626" stroke-width="0.2">360</text>
<text transform="translate(404.0,188.5) scale(0.900,1)" font-size="15.6" text-anchor="middle" fill="#262626" stroke="#262626" stroke-width="0.2">370</text>
<text transform="translate(447.1,188.5) scale(0.900,1)" font-size="15.6" text-anchor="middle" fill="#262626" stroke="#262626" stroke-width="0.2">380</text>
<text transform="translate(490.3,188.5) scale(0.900,1)" font-size="15.6" text-anchor="middle" fill="#262626" stroke="#262626" stroke-width="0.2">390</text>
<text transform="translate(533.4,188.5) scale(0.900,1)" font-size="15.6" text-anchor="middle" fill="#262626" stroke="#262626" stroke-width="0.2">400</text>
<text transform="translate(407.8,99.9) scale(1.130,1)" font-size="16" text-anchor="start" fill="#1a1a1a" stroke="#1a1a1a" stroke-width="0.15">377 nm</text>
<text transform="translate(442.9,164.8) scale(1.120,1)" font-size="16" text-anchor="start" fill="#1a1a1a" stroke="#1a1a1a" stroke-width="0.15">386 nm</text>
<path d="M435.2,59.2 L438.0,67.7 L436.2,67.7 L436.2,75.2 L434.2,75.2 L434.2,67.7 L432.4,67.7 Z" fill="#111"/>
<path d="M472.7,135.2 L475.5,143.7 L473.7,143.7 L473.7,151.2 L471.7,151.2 L471.7,143.7 L469.9,143.7 Z" fill="#111"/>
<rect x="90.3" y="2.3" width="464.7" height="340.7" fill="none" stroke="#333333" stroke-width="2"/>
<path d="M120.5,764.8 V758.0 M156.4,764.8 V761.0999999999999 M192.2,764.8 V758.0 M228.1,764.8 V761.0999999999999 M264.0,764.8 V758.0 M299.9,764.8 V761.0999999999999 M335.8,764.8 V758.0 M371.6,764.8 V761.0999999999999 M407.5,764.8 V758.0 M443.4,764.8 V761.0999999999999 M479.3,764.8 V758.0 M515.2,764.8 V761.0999999999999 M84.6,750.7 H88.19999999999999 M84.6,736.4 H91.8 M84.6,722.1 H88.19999999999999 M84.6,707.9 H91.8 M84.6,693.6 H88.19999999999999 M84.6,679.3 H91.8 M84.6,665.0 H88.19999999999999 M84.6,650.7 H91.8 M84.6,636.4 H88.19999999999999 M84.6,622.1 H91.8 M84.6,607.9 H88.19999999999999 M84.6,593.6 H91.8 M84.6,579.3 H88.19999999999999 M84.6,565.0 H91.8 M84.6,550.7 H88.19999999999999 M84.6,536.4 H91.8 M84.6,522.2 H88.19999999999999 M84.6,507.9 H91.8 M84.6,493.6 H88.19999999999999 M84.6,479.3 H91.8 M84.6,465.0 H88.19999999999999 M84.6,450.7 H91.8 M84.6,436.4 H88.19999999999999" stroke="#333333" stroke-width="1.8" fill="none"/>
<text transform="translate(120.5,787.0)" font-size="18.5" text-anchor="middle" fill="#1a1a1a" stroke="#1a1a1a" stroke-width="0.35">2.8</text>
<text transform="translate(192.2,787.0)" font-size="18.5" text-anchor="middle" fill="#1a1a1a" stroke="#1a1a1a" stroke-width="0.35">3.0</text>
<text transform="translate(264.0,787.0)" font-size="18.5" text-anchor="middle" fill="#1a1a1a" stroke="#1a1a1a" stroke-width="0.35">3.2</text>
<text transform="translate(335.8,787.0)" font-size="18.5" text-anchor="middle" fill="#1a1a1a" stroke="#1a1a1a" stroke-width="0.35">3.4</text>
<text transform="translate(407.5,787.0)" font-size="18.5" text-anchor="middle" fill="#1a1a1a" stroke="#1a1a1a" stroke-width="0.35">3.6</text>
<text transform="translate(479.3,787.0)" font-size="18.5" text-anchor="middle" fill="#1a1a1a" stroke="#1a1a1a" stroke-width="0.35">3.8</text>
<text transform="translate(551.0,787.0)" font-size="18.5" text-anchor="middle" fill="#1a1a1a" stroke="#1a1a1a" stroke-width="0.35">4.0</text>
<text transform="translate(77.0,770.0)" font-size="18.5" text-anchor="end" fill="#1a1a1a" stroke="#1a1a1a" stroke-width="0.35">0</text>
<text transform="translate(77.0,741.4)" font-size="18.5" text-anchor="end" fill="#1a1a1a" stroke="#1a1a1a" stroke-width="0.35">100</text>
<text transform="translate(77.0,712.9)" font-size="18.5" text-anchor="end" fill="#1a1a1a" stroke="#1a1a1a" stroke-width="0.35">200</text>
<text transform="translate(77.0,684.3)" font-size="18.5" text-anchor="end" fill="#1a1a1a" stroke="#1a1a1a" stroke-width="0.35">300</text>
<text transform="translate(77.0,655.7)" font-size="18.5" text-anchor="end" fill="#1a1a1a" stroke="#1a1a1a" stroke-width="0.35">400</text>
<text transform="translate(77.0,627.1)" font-size="18.5" text-anchor="end" fill="#1a1a1a" stroke="#1a1a1a" stroke-width="0.35">500</text>
<text transform="translate(77.0,598.6)" font-size="18.5" text-anchor="end" fill="#1a1a1a" stroke="#1a1a1a" stroke-width="0.35">600</text>
<text transform="translate(77.0,570.0)" font-size="18.5" text-anchor="end" fill="#1a1a1a" stroke="#1a1a1a" stroke-width="0.35">700</text>
<text transform="translate(77.0,541.4)" font-size="18.5" text-anchor="end" fill="#1a1a1a" stroke="#1a1a1a" stroke-width="0.35">800</text>
<text transform="translate(77.0,512.9)" font-size="18.5" text-anchor="end" fill="#1a1a1a" stroke="#1a1a1a" stroke-width="0.35">900</text>
<text transform="translate(77.0,484.3)" font-size="18.5" text-anchor="end" fill="#1a1a1a" stroke="#1a1a1a" stroke-width="0.35">1000</text>
<text transform="translate(77.0,455.7)" font-size="18.5" text-anchor="end" fill="#1a1a1a" stroke="#1a1a1a" stroke-width="0.35">1100</text>
<text transform="translate(77.0,427.2)" font-size="18.5" text-anchor="end" fill="#1a1a1a" stroke="#1a1a1a" stroke-width="0.35">1200</text>
<text transform="translate(318.1,812.6) scale(1.060,1)" font-size="20.4" text-anchor="middle" fill="#1a1a1a" stroke="#1a1a1a" stroke-width="0.35">hv (eV)</text>
<text transform="translate(22.0,585.0) rotate(-90)" font-size="20" text-anchor="middle" fill="#1a1a1a" stroke="#1a1a1a" stroke-width="0.35" letter-spacing="0.9">(&#945;hv)<tspan font-size="14.5" dy="-8.5">2</tspan><tspan dy="8.5"> (&#956;m</tspan><tspan font-size="14.5" dy="-8.5">-1</tspan><tspan dy="8.5">)</tspan><tspan font-size="14.5" dy="-8.5">2</tspan></text>
<text transform="translate(98.8,460.0) scale(1.080,1)" font-size="26.8" text-anchor="start" fill="#1a1a1a" stroke="#1a1a1a" stroke-width="0.35">(<tspan font-size="24.5">b</tspan>)</text>
<path d="M109.5,597 H147.5" stroke="#de1a1a" stroke-width="2.8" stroke-linecap="round"/>
<path d="M109.5,618.2 H147.5" stroke="#0a0a0a" stroke-width="2.8" stroke-linecap="round"/>
<text transform="translate(151.7,603.0)" font-size="17" text-anchor="start" fill="#1a1a1a" stroke="#1a1a1a" stroke-width="0.35">Sulfurized ZnO</text>
<text transform="translate(151.7,623.5)" font-size="17" text-anchor="start" fill="#1a1a1a" stroke="#1a1a1a" stroke-width="0.35">As grown ZnO</text>
<polyline points="85.5,761.3 86.5,761.3 87.5,761.3 88.5,761.3 89.5,761.3 90.6,761.3 91.6,761.3 92.6,761.3 93.6,761.3 94.6,761.3 95.7,761.3 96.7,761.3 97.7,761.2 98.7,761.2 99.8,761.2 100.8,761.2 101.8,761.2 102.8,761.2 103.9,761.2 104.9,761.2 105.9,761.2 107.0,761.2 108.0,761.2 109.0,761.2 110.0,761.2 111.1,761.2 112.1,761.2 113.1,761.2 114.2,761.2 115.2,761.2 116.2,761.2 117.2,761.2 118.3,761.2 119.3,761.2 120.3,761.2 121.3,761.1 122.3,761.1 123.4,761.1 124.4,761.1 125.4,761.1 126.4,761.1 127.4,761.1 128.4,761.1 129.4,761.1 130.4,761.1 131.5,761.1 132.5,761.1 133.5,761.1 134.5,761.1 135.4,761.1 136.4,761.1 137.4,761.1 138.4,761.1 139.4,761.1 140.4,761.1 141.4,761.1 142.3,761.0 143.3,761.0 144.3,761.0 145.2,761.0 146.2,761.0 147.2,761.0 148.1,761.0 149.1,761.0 150.0,761.0 151.1,761.0 152.1,761.0 153.2,761.0 154.2,761.0 155.3,761.0 156.3,761.0 157.4,761.0 158.4,760.9 159.5,760.9 160.5,760.9 161.5,760.9 162.6,760.9 163.6,760.9 164.6,760.9 165.6,760.9 166.7,760.9 167.7,760.9 168.7,760.9 169.7,760.9 170.7,760.9 171.7,760.8 172.7,760.8 173.7,760.8 174.7,760.8 175.7,760.8 176.7,760.8 177.7,760.8 178.7,760.8 179.7,760.8 180.7,760.8 181.7,760.8 182.7,760.8 183.7,760.8 184.6,760.7 185.6,760.7 186.6,760.7 187.6,760.7 188.5,760.7 189.5,760.7 190.5,760.7 191.4,760.7 192.4,760.7 193.3,760.7 194.3,760.7 195.3,760.6 196.2,760.6 197.2,760.6 198.1,760.6 199.1,760.6 200.0,760.6 201.1,760.6 202.1,760.6 203.2,760.6 204.2,760.6 205.3,760.5 206.3,760.5 207.3,760.5 208.4,760.5 209.4,760.5 210.4,760.5 211.5,760.5 212.5,760.5 213.5,760.5 214.6,760.5 215.6,760.5 216.6,760.4 217.6,760.4 218.6,760.4 219.6,760.4 220.6,760.4 221.6,760.4 222.6,760.4 223.6,760.4 224.6,760.4 225.6,760.3 226.6,760.3 227.6,760.3 228.6,760.3 229.5,760.3 230.5,760.3 231.5,760.3 232.4,760.2 233.4,760.2 234.4,760.2 235.3,760.2 236.3,760.2 237.2,760.2 238.1,760.1 239.1,760.1 240.0,760.1 241.1,760.1 242.1,760.1 243.2,760.0 244.3,760.0 245.3,760.0 246.4,760.0 247.5,760.0 248.5,760.0 249.6,760.0 250.6,760.0 251.7,760.0 252.7,760.0 253.7,760.0 254.8,759.9 255.8,759.9 256.8,759.9 257.8,759.9 258.8,759.9 259.8,759.8 260.8,759.8 261.7,759.8 262.7,759.7 263.6,759.7 264.6,759.6 265.5,759.6 266.4,759.5 267.3,759.4 268.2,759.3 269.1,759.2 270.0,759.1 271.1,758.9 272.2,758.8 273.3,758.6 274.4,758.4 275.5,758.3 276.6,758.1 277.6,757.9 278.7,757.6 279.7,757.4 280.7,757.2 281.7,756.9 282.6,756.7 283.5,756.4 284.4,756.2 285.3,755.9 286.1,755.6 286.9,755.3 287.7,755.0 288.8,754.5 289.8,754.0 290.7,753.5 291.6,753.0 292.4,752.4 293.2,751.8 294.0,751.2 294.8,750.5 295.6,749.8 296.3,749.0 297.1,748.2 297.8,747.4 298.5,746.5 299.2,745.7 299.8,744.8 300.5,744.0 301.2,743.2 301.8,742.4 302.4,741.6 303.1,740.8 303.7,740.0 304.3,739.2 304.9,738.3 305.5,737.5 306.1,736.6 306.6,735.8 307.2,734.9 307.7,734.0 308.3,733.1 308.8,732.2 309.4,731.3 310.0,730.5 310.7,729.6 311.3,728.7 312.0,727.9 312.7,727.0 313.5,726.2 314.2,725.4 315.1,724.5 315.8,723.9 316.5,723.2 317.2,722.6 317.9,721.9 318.7,721.3 319.5,720.7 320.3,720.0 321.1,719.4 322.0,718.8 322.9,718.2 323.8,717.6 324.7,717.0 325.5,716.5 326.3,716.1 327.2,715.6 328.0,715.2 328.9,714.8 329.8,714.3 330.8,713.9 331.7,713.5 332.6,713.1 333.6,712.7 334.6,712.3 335.5,711.9 336.5,711.5 337.4,711.1 338.4,710.8 339.3,710.4 340.2,710.0 341.2,709.6 342.2,709.2 343.2,708.8 344.2,708.5 345.2,708.1 346.2,707.8 347.2,707.4 348.2,707.1 349.2,706.7 350.2,706.4 351.1,706.0 352.1,705.7 353.1,705.3 354.1,704.9 355.1,704.5 356.0,704.1 357.0,703.7 358.0,703.3 358.9,702.9 359.9,702.4 360.9,702.0 361.8,701.6 362.8,701.1 363.7,700.7 364.7,700.2 365.6,699.8 366.5,699.3 367.4,698.9 368.3,698.4 369.2,698.0 370.0,697.5 371.0,696.9 371.9,696.4 372.9,695.8 373.7,695.2 374.6,694.7 375.5,694.1 376.3,693.5 377.2,692.9 378.1,692.3 379.0,691.6 380.0,691.0 380.8,690.5 381.6,690.0 382.4,689.5 383.2,688.9 384.0,688.4 384.9,687.8 385.7,687.3 386.5,686.7 387.4,686.2 388.3,685.6 389.1,685.0 390.0,684.5 390.8,683.9 391.7,683.3 392.5,682.7 393.4,682.1 394.2,681.5 395.0,680.9 395.8,680.3 396.6,679.7 397.4,679.0 398.2,678.4 399.0,677.7 399.8,677.0 400.6,676.4 401.4,675.7 402.2,675.0 403.0,674.4 403.8,673.7 404.5,673.1 405.3,672.4 406.1,671.8 406.9,671.2 407.6,670.6 408.4,670.0 409.3,669.4 410.1,668.8 410.9,668.3 411.8,667.7 412.6,667.2 413.5,666.7 414.3,666.2 415.1,665.7 415.9,665.2 416.7,664.6 417.6,664.0 418.4,663.4 419.2,662.7 420.0,662.0 420.6,661.4 421.3,660.7 421.9,660.0 422.5,659.3 423.2,658.5 423.8,657.8 424.4,656.9 425.1,656.1 425.7,655.3 426.3,654.4 427.0,653.6 427.6,652.7 428.2,651.8 428.8,650.9 429.4,650.1 430.1,649.2 430.7,648.4 431.3,647.5 431.9,646.7 432.5,645.9 433.0,645.2 433.6,644.4 434.2,643.7 434.9,642.8 435.6,642.0 436.3,641.2 436.9,640.4 437.6,639.6 438.3,638.8 438.9,638.0 439.6,637.2 440.2,636.5 440.8,635.7 441.5,635.0 442.1,634.3 442.8,633.6 443.4,633.0 444.1,632.3 444.9,631.6 445.6,630.8 446.4,630.1 447.1,629.4 447.9,628.8 448.6,628.1 449.4,627.5 450.2,626.9 451.0,626.3 451.8,625.8 452.6,625.2 453.4,624.7 454.3,624.2 455.2,623.7 456.0,623.2 456.9,622.8 457.8,622.3 458.7,621.9 459.7,621.5 460.6,621.1 461.6,620.7 462.6,620.3 463.5,619.9 464.6,619.6 465.6,619.3 466.7,619.0 467.8,618.6 469.0,618.3 470.1,618.0 471.2,617.7 472.3,617.4 473.3,617.1 474.3,616.9 475.2,616.6 476.0,616.3 476.7,616.0 477.9,615.3 478.8,614.6 480.0,614.0 480.7,613.7 481.5,613.5 482.4,613.2 483.3,613.0 484.3,612.8 485.4,612.5 486.5,612.3 487.6,612.1 488.7,611.9 489.8,611.6 491.0,611.4 492.1,611.2 493.2,610.9 494.2,610.7 495.2,610.5 496.2,610.2 497.2,610.0 498.3,609.7 499.3,609.5 500.3,609.2 501.3,608.9 502.3,608.7 503.3,608.4 504.3,608.2 505.4,607.9 506.4,607.7 507.4,607.4 508.4,607.2 509.4,607.0 510.4,606.7 511.4,606.5 512.5,606.2 513.5,606.0 514.5,605.8 515.5,605.5 516.5,605.3 517.5,605.1 518.5,604.9 519.6,604.6 520.6,604.4 521.6,604.2 522.6,604.0 523.6,603.8 524.6,603.6 525.6,603.4 526.6,603.2 527.6,603.0 528.7,602.9 529.7,602.7 530.7,602.5 531.7,602.3 532.7,602.1 533.7,602.0 534.7,601.8 535.7,601.6 536.7,601.4 537.8,601.2 538.8,601.0 539.9,600.8 540.9,600.6 542.0,600.3 543.0,600.1 544.1,599.9 545.1,599.7 546.2,599.5 547.2,599.3 548.3,599.0 549.3,598.8 550.4,598.6" stroke="#de1a1a" stroke-width="2.6" fill="none" stroke-linejoin="round"/>
<path d="M330.8,492.5 L305.2,763 M318.5,716.5 L288.4,764.1 M448.2,622.6 L344.3,764.4" stroke="#0a0a0a" stroke-width="2.4" stroke-dasharray="8.5 5.5" fill="none"/>
<polyline points="85.5,763.0 86.5,763.0 87.5,763.0 88.5,763.0 89.5,763.0 90.6,763.0 91.6,763.0 92.6,763.0 93.6,763.0 94.6,763.0 95.7,763.0 96.7,763.0 97.7,762.9 98.7,762.9 99.8,762.9 100.8,762.9 101.8,762.9 102.8,762.9 103.9,762.9 104.9,762.9 105.9,762.9 107.0,762.9 108.0,762.9 109.0,762.9 110.0,762.9 111.1,762.9 112.1,762.9 113.1,762.9 114.2,762.9 115.2,762.9 116.2,762.9 117.2,762.9 118.3,762.9 119.3,762.9 120.3,762.9 121.3,762.9 122.3,762.9 123.4,762.8 124.4,762.8 125.4,762.8 126.4,762.8 127.4,762.8 128.4,762.8 129.4,762.8 130.4,762.8 131.5,762.8 132.5,762.8 133.5,762.8 134.5,762.8 135.4,762.8 136.4,762.8 137.4,762.8 138.4,762.8 139.4,762.8 140.4,762.8 141.4,762.8 142.3,762.8 143.3,762.7 144.3,762.7 145.2,762.7 146.2,762.7 147.2,762.7 148.1,762.7 149.1,762.7 150.0,762.7 151.1,762.7 152.1,762.7 153.2,762.7 154.2,762.7 155.3,762.7 156.3,762.7 157.4,762.6 158.4,762.6 159.5,762.6 160.5,762.6 161.5,762.6 162.6,762.6 163.6,762.6 164.6,762.6 165.6,762.6 166.7,762.6 167.7,762.6 168.7,762.6 169.7,762.6 170.7,762.6 171.7,762.5 172.7,762.5 173.7,762.5 174.7,762.5 175.7,762.5 176.7,762.5 177.7,762.5 178.7,762.5 179.7,762.5 180.7,762.5 181.7,762.5 182.7,762.4 183.7,762.4 184.6,762.4 185.6,762.4 186.6,762.4 187.6,762.4 188.5,762.4 189.5,762.4 190.5,762.4 191.4,762.3 192.4,762.3 193.3,762.3 194.3,762.3 195.3,762.3 196.2,762.3 197.2,762.3 198.1,762.2 199.1,762.2 200.0,762.2 201.1,762.2 202.1,762.2 203.2,762.1 204.2,762.1 205.3,762.1 206.3,762.1 207.3,762.1 208.4,762.0 209.4,762.0 210.4,762.0 211.5,762.0 212.5,762.0 213.5,761.9 214.6,761.9 215.6,761.9 216.6,761.9 217.6,761.9 218.6,761.8 219.6,761.8 220.6,761.8 221.6,761.8 222.6,761.7 223.6,761.7 224.6,761.7 225.6,761.7 226.6,761.6 227.6,761.6 228.6,761.6 229.5,761.5 230.5,761.5 231.5,761.5 232.4,761.4 233.4,761.4 234.4,761.4 235.3,761.3 236.3,761.3 237.2,761.2 238.1,761.2 239.1,761.1 240.0,761.1 241.1,761.0 242.2,761.0 243.2,760.9 244.3,760.9 245.4,760.8 246.5,760.8 247.6,760.7 248.7,760.7 249.8,760.6 250.9,760.6 252.0,760.5 253.1,760.4 254.1,760.4 255.2,760.3 256.2,760.2 257.3,760.2 258.3,760.1 259.3,760.0 260.3,760.0 261.3,759.9 262.3,759.8 263.2,759.7 264.2,759.6 265.1,759.5 265.9,759.4 266.8,759.3 267.6,759.2 268.5,759.1 269.2,759.0 270.0,758.9 271.3,758.7 272.5,758.5 273.7,758.2 274.8,758.0 275.8,757.7 276.8,757.4 277.8,757.2 278.7,756.9 279.7,756.6 280.6,756.3 281.7,755.9 282.8,755.6 283.8,755.3 284.8,754.9 285.8,754.5 286.8,754.0 287.7,753.5 288.6,752.9 289.5,752.3 290.3,751.6 291.1,750.8 291.9,750.1 292.7,749.3 293.4,748.5 294.1,747.7 294.8,746.9 295.4,746.1 296.0,745.3 296.6,744.5 297.2,743.6 297.7,742.8 298.2,741.9 298.7,741.0 299.2,740.0 299.6,739.1 300.1,738.1 300.5,737.1 300.9,736.2 301.2,735.3 301.6,734.3 302.0,733.3 302.3,732.3 302.7,731.3 303.0,730.3 303.3,729.3 303.6,728.3 303.9,727.3 304.1,726.3 304.4,725.3 304.6,724.3 304.8,723.2 305.1,722.2 305.3,721.1 305.5,720.0 305.7,719.1 305.9,718.1 306.0,717.1 306.2,716.1 306.4,715.1 306.5,714.1 306.7,713.1 306.9,712.1 307.0,711.1 307.2,710.0 307.3,709.0 307.5,708.0 307.7,707.0 307.8,706.0 308.0,705.0 308.1,704.0 308.3,703.0 308.4,701.9 308.6,700.9 308.7,699.9 308.9,698.9 309.0,697.9 309.2,696.9 309.3,695.9 309.5,695.0 309.7,694.0 309.9,692.9 310.0,692.0 310.2,691.0 310.4,690.0 310.6,689.1 310.8,688.1 310.9,687.1 311.1,686.1 311.3,685.0 311.5,684.1 311.6,683.2 311.8,682.2 311.9,681.3 312.1,680.3 312.2,679.3 312.4,678.3 312.5,677.3 312.7,676.3 312.9,675.3 313.0,674.2 313.2,673.2 313.3,672.1 313.5,671.1 313.6,670.0 313.7,669.1 313.8,668.1 314.0,667.2 314.1,666.3 314.2,665.4 314.3,664.4 314.4,663.5 314.5,662.5 314.7,661.5 314.8,660.6 314.9,659.6 315.0,658.6 315.1,657.6 315.2,656.5 315.3,655.5 315.4,654.4 315.6,653.4 315.7,652.3 315.8,651.1 315.9,650.0 316.0,649.1 316.1,648.3 316.2,647.4 316.2,646.5 316.3,645.5 316.4,644.6 316.5,643.6 316.6,642.7 316.7,641.7 316.8,640.7 316.9,639.7 316.9,638.7 317.0,637.7 317.1,636.6 317.2,635.6 317.3,634.6 317.4,633.5 317.5,632.5 317.6,631.4 317.7,630.3 317.7,629.3 317.8,628.2 317.9,627.2 318.0,626.1 318.1,625.0 318.2,624.0 318.3,622.9 318.4,621.9 318.5,620.8 318.6,619.8 318.7,618.7 318.7,617.7 318.8,616.7 318.9,615.7 319.0,614.7 319.1,613.7 319.2,612.7 319.3,611.7 319.4,610.6 319.5,609.6 319.6,608.6 319.7,607.5 319.8,606.5 319.9,605.5 320.0,604.4 320.1,603.4 320.2,602.4 320.3,601.3 320.4,600.3 320.5,599.3 320.6,598.3 320.6,597.2 320.7,596.2 320.8,595.2 320.9,594.2 321.0,593.2 321.1,592.2 321.2,591.2 321.3,590.2 321.4,589.2 321.5,588.2 321.6,587.3 321.8,586.3 321.9,585.3 322.0,584.4 322.1,583.5 322.2,582.5 322.3,581.6 322.4,580.7 322.5,579.8 322.6,578.7 322.8,577.6 322.9,576.6 323.1,575.5 323.2,574.5 323.3,573.5 323.5,572.5 323.6,571.5 323.8,570.5 323.9,569.5 324.1,568.5 324.2,567.5 324.4,566.6 324.5,565.6 324.7,564.6 324.8,563.7 325.0,562.7 325.1,561.7 325.3,560.8 325.4,559.8 325.6,558.8 325.7,557.8 325.8,556.8 326.0,555.8 326.1,554.8 326.3,553.8 326.4,552.8 326.5,551.8 326.7,550.7 326.8,549.7 327.0,548.7 327.1,547.7 327.2,546.7 327.4,545.7 327.5,544.7 327.7,543.7 327.8,542.7 327.9,541.7 328.1,540.7 328.2,539.7 328.4,538.8 328.5,537.8 328.7,536.8 328.8,535.9 329.0,534.8 329.1,533.7 329.3,532.7 329.5,531.6 329.7,530.5 329.8,529.5 330.0,528.5 330.2,527.4 330.3,526.4 330.5,525.4 330.7,524.3 330.9,523.3 331.1,522.3 331.2,521.3 331.4,520.3 331.6,519.3 331.8,518.3 332.0,517.2 332.2,516.2 332.4,515.2 332.6,514.1 332.9,513.1 333.1,512.1 333.3,511.1 333.5,510.1 333.8,509.1 334.0,508.0 334.2,507.0 334.4,506.0 334.7,505.0 334.9,503.9 335.1,502.9 335.3,501.9 335.5,500.9 335.7,499.9 335.9,498.9 336.1,497.9 336.2,496.9 336.4,495.8 336.6,494.8 336.8,493.8 337.0,492.7 337.2,491.7 337.4,490.7 337.6,489.7 337.8,488.8 338.1,487.8 338.3,486.9 338.6,486.0 338.9,484.9 339.3,483.9 339.7,482.9 340.1,481.9 340.5,481.0 340.9,480.0 341.3,479.1 341.7,478.2 342.1,477.2 342.6,476.3 343.0,475.4 343.4,474.4 343.8,473.4 344.2,472.4 344.7,471.5 345.1,470.5 345.5,469.5 346.0,468.5 346.4,467.5 346.8,466.6 347.3,465.6 347.7,464.6 348.2,463.7 348.7,462.7 349.2,461.7 349.7,460.6 350.2,459.5 350.8,458.4 351.3,457.2 351.8,456.1 352.4,455.1 352.9,454.1 353.5,453.2 354.0,452.5 354.6,452.0 355.1,451.6 356.2,451.6 357.2,452.0 358.3,452.0 358.9,451.6 359.5,450.9 360.1,450.0 360.7,449.0 361.4,447.8 362.1,446.6 362.7,445.4 363.4,444.3 364.0,443.4 364.6,442.6 365.2,442.0 365.7,441.8 366.5,442.2 367.2,443.1 368.0,444.1 368.9,444.6 369.5,444.5 370.2,444.2 371.0,443.7 371.9,443.0 372.8,442.2 373.7,441.4 374.6,440.5 375.6,439.7 376.5,438.9 377.4,438.2 378.2,437.6 378.9,437.3 379.6,437.1 380.7,437.4 381.6,438.2 382.5,439.0 383.4,439.3 384.2,439.0 384.9,438.3 385.7,437.4 386.5,436.5 387.3,435.8 388.1,435.4 389.1,435.5 390.2,435.9 391.3,436.5 392.3,436.9 393.4,437.1 394.4,436.9 395.5,436.3 396.5,435.7 397.5,435.1 398.7,434.6 399.7,434.4 400.7,434.2 401.8,434.0 402.9,433.9 404.0,433.8 405.1,433.7 406.2,433.5 407.2,433.3 408.3,432.9 409.4,432.5 410.5,432.1 411.5,431.6 412.5,431.2 413.6,430.8 414.7,430.5 415.8,430.3 416.9,430.1 418.0,429.8 419.0,429.5 420.0,429.1 420.8,428.6 421.6,427.9 422.4,427.2 423.2,426.5 423.9,425.7 424.6,425.0 425.3,424.4 426.2,423.7 426.9,423.0 427.7,422.4 428.5,421.8" stroke="#0a0a0a" stroke-width="2.6" fill="none" stroke-linejoin="round"/>
<rect x="84.6" y="422.5" width="466.4" height="342.3" fill="none" stroke="#333333" stroke-width="1.7"/>
</svg>
</body></html>
